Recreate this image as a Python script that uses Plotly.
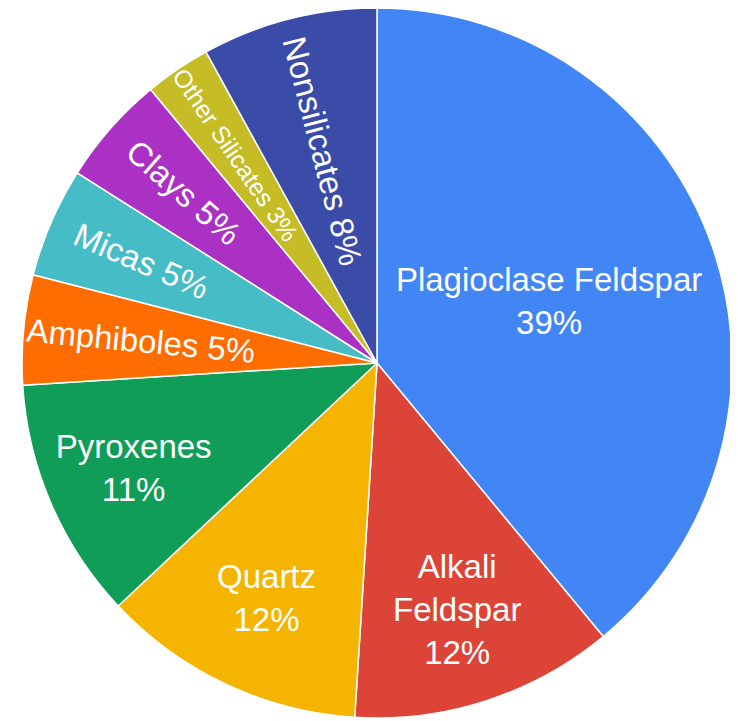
import plotly.graph_objects as go

labels = ["Plagioclase Feldspar", "Alkali Feldspar", "Quartz", "Pyroxenes",
          "Amphiboles", "Micas", "Clays", "Other Silicates", "Nonsilicates"]
values = [39, 12, 12, 11, 5, 5, 5, 3, 8]
colors = ["#4285F4", "#DB4437", "#F4B400", "#0F9D58", "#FF6D00",
          "#46BDC6", "#AB30C4", "#C5BC26", "#3B4BA8"]
# label text as displayed (line breaks as in the chart)
display = ["Plagioclase Feldspar<br>39%", "Alkali<br>Feldspar<br>12%", "Quartz<br>12%",
           "Pyroxenes<br>11%", "Amphiboles 5%", "Micas 5%", "Clays 5%",
           "Other Silicates 3%", "Nonsilicates 8%"]
radial = [False, False, False, False, True, True, True, True, True]
font_sizes = [33, 33, 33, 33, 33, 33, 33, 25, 33]

font = "Liberation Sans, Arial, Helvetica, sans-serif"
W, H = 738, 721
# pie centre (369, 355) px in figure coords, radius 355 px
cx, cy, r = 369, 355, 355
dom = dict(x=[(cx - r) / W, (cx + r) / W], y=[1 - (cy + r) / H, 1 - max(cy - r, 0) / H])

fig = go.Figure()
fig.add_trace(go.Pie(
    labels=labels, values=values, sort=False, direction="clockwise", rotation=0,
    marker=dict(colors=colors, line=dict(color="white", width=1.5)),
    text=[d if not rd else "" for d, rd in zip(display, radial)],
    textinfo="text", textposition="inside", insidetextorientation="horizontal",
    textfont=dict(family=font, size=font_sizes, color="white"),
    showlegend=False, domain=dom, hoverinfo="label+percent",
))
fig.add_trace(go.Pie(
    labels=labels, values=values, sort=False, direction="clockwise", rotation=0,
    marker=dict(colors=["rgba(0,0,0,0)"] * len(values), line=dict(width=0)),
    text=[d if rd else "" for d, rd in zip(display, radial)],
    textinfo="text", textposition="inside", insidetextorientation="radial",
    textfont=dict(family=font, size=font_sizes, color="white"),
    showlegend=False, domain=dom, hoverinfo="skip",
))
fig.update_layout(width=W, height=H, margin=dict(l=0, r=0, t=0, b=0),
                  paper_bgcolor="white", plot_bgcolor="white")
fig.write_html("out.html")
